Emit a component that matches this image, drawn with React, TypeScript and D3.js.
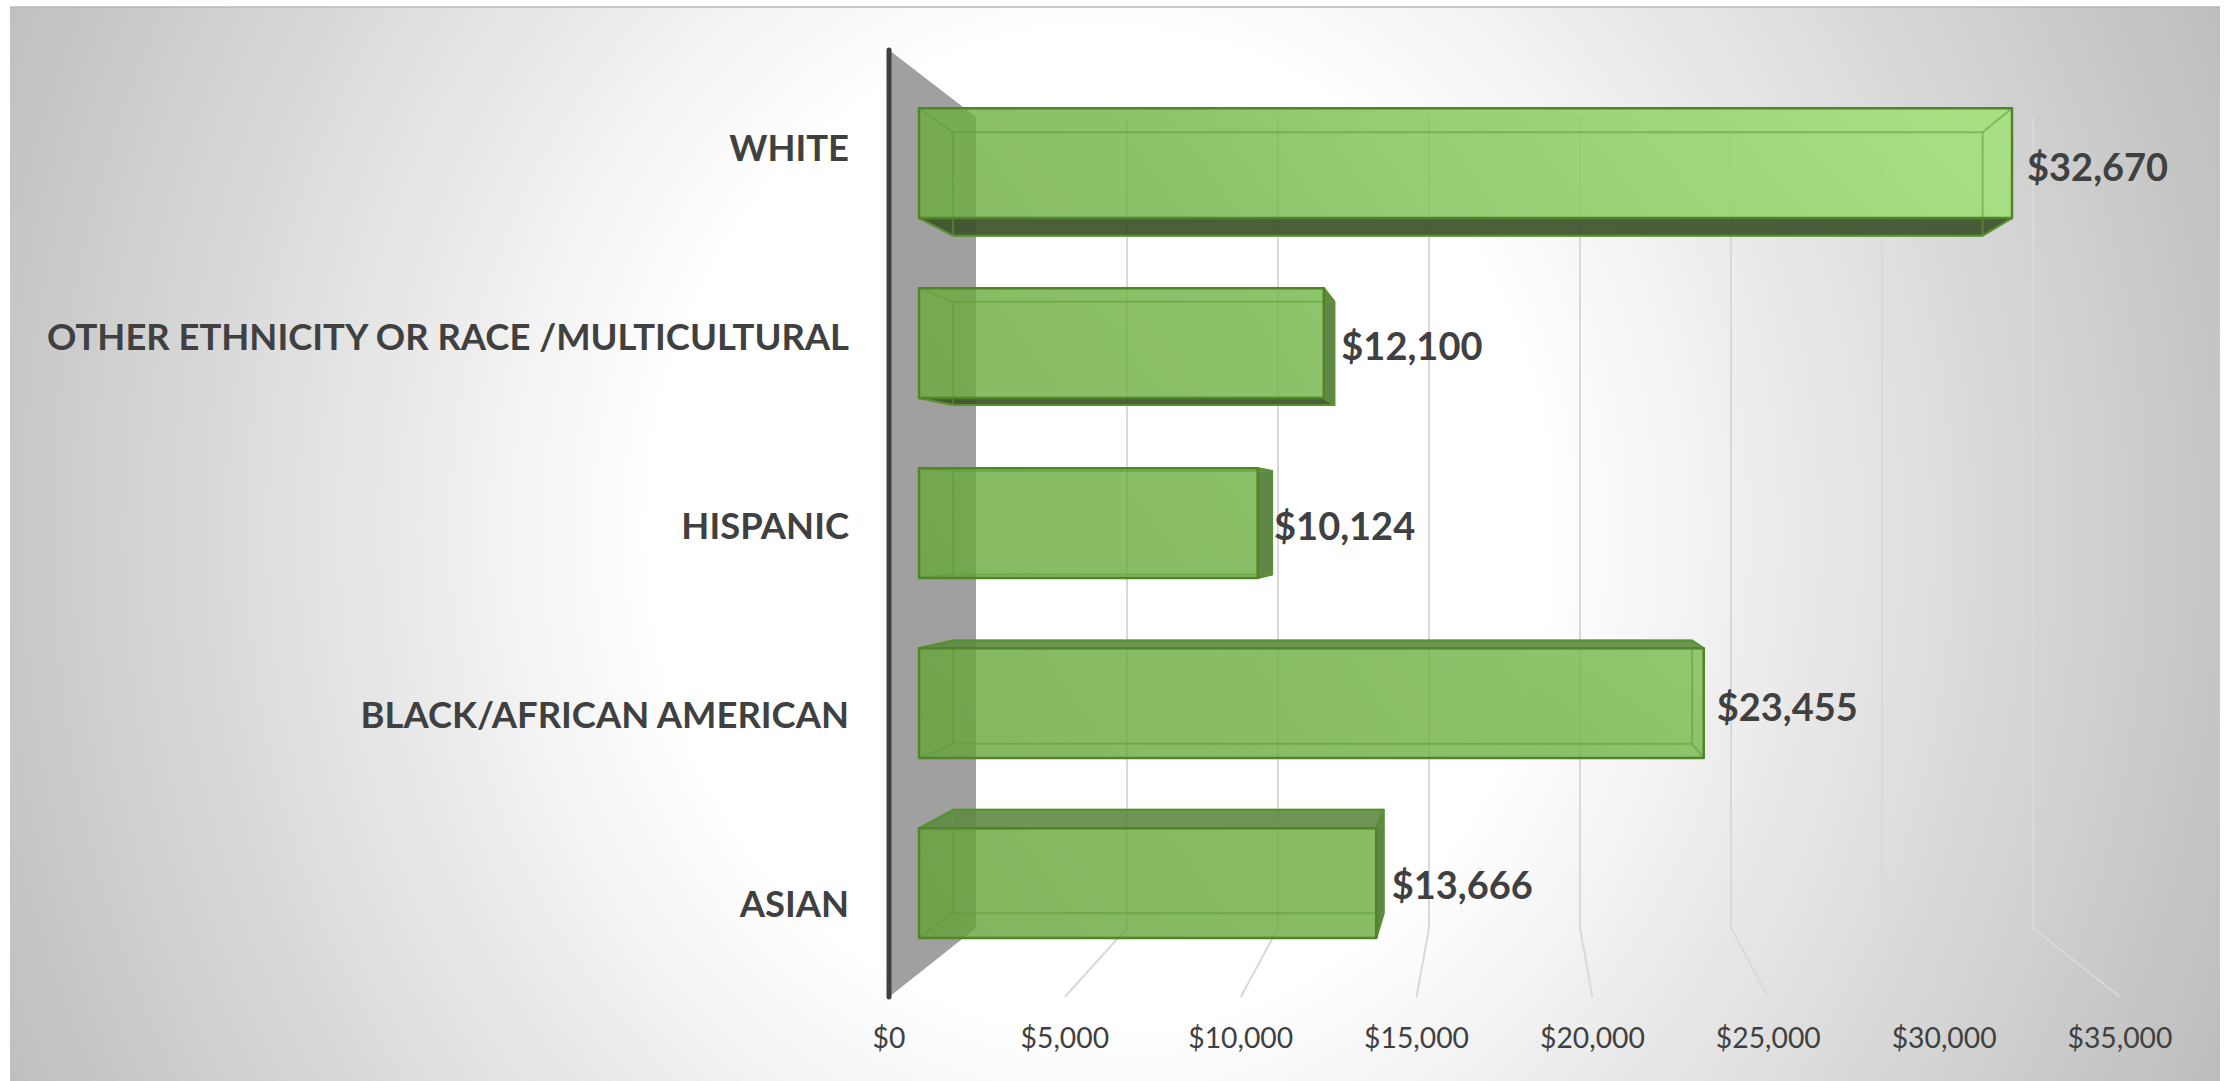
import React from "react";
import * as d3 from "d3";

const categories = ["WHITE", "OTHER ETHNICITY OR RACE /MULTICULTURAL", "HISPANIC", "BLACK/AFRICAN AMERICAN", "ASIAN"];
const values = [32670, 12100, 10124, 23455, 13666];
const valueLabels = ["$32,670", "$12,100", "$10,124", "$23,455", "$13,666"];
const ticks = [0, 5000, 10000, 15000, 20000, 25000, 30000, 35000];

// layout (kept apart from the data)
const W = 2231, H = 1081;
const labelDx = [15, 7, 2, 13, 8];
const labelDy = [3, 2, 2, 3, 1];
const T_FRONT = 0.345, T_BACK = 0.736;

const xAxisPlane = d3.scaleLinear().domain([0, 35000]).range([889, 2120]);
const xBackPlane = d3.scaleLinear().domain([0, 35000]).range([976, 2033]);
const yAxisPlane = d3.scaleLinear().domain([0, 1]).range([50, 997]);
const yBackPlane = d3.scaleLinear().domain([0, 1]).range([117, 928]);
const band = d3.scaleBand<string>().domain(categories).range([0, 1]).paddingInner(0.39).paddingOuter(0.195);

type P = [number, number];
const pt = (v: number, u: number, t: number): P => [
  d3.interpolateNumber(xAxisPlane(v), xBackPlane(v))(t),
  d3.interpolateNumber(yAxisPlane(u), yBackPlane(u))(t),
];
const line = d3.line<P>();
const poly = (ps: P[]) => line(ps) + "Z";
const money = (n: number) => "$" + d3.format(",")(n);

const FONT = "Lato, Carlito, Calibri, sans-serif";
const EDGE = "#518529";
const INNER = "#5c9c36";

function Bar({ cat, value }: { cat: string; value: number }) {
  const u0 = band(cat)!;
  const u1 = u0 + band.bandwidth();
  const fTL = pt(0, u0, T_FRONT), fTR = pt(value, u0, T_FRONT), fBL = pt(0, u1, T_FRONT), fBR = pt(value, u1, T_FRONT);
  const bTL = pt(0, u0, T_BACK), bTR = pt(value, u0, T_BACK), bBL = pt(0, u1, T_BACK), bBR = pt(value, u1, T_BACK);
  const topOut = bTL[1] < fTL[1];
  const bottomOut = bBL[1] > fBL[1];
  const rightOut = bTR[0] > fTR[0];
  const inner: [P, P][] = [
    [bTL, bTR], [bBL, bBR], [bTL, bBL], [bTR, bBR],
    [fTL, bTL], [fBL, bBL], [fTR, bTR], [fBR, bBR],
  ];
  return (
    <g>
      {topOut && <path d={poly([fTL, fTR, bTR, bTL])} fill="#5e8a42" fillOpacity={0.9} stroke={EDGE} strokeWidth={2} strokeLinejoin="round" />}
      {bottomOut && <path d={poly([fBL, fBR, bBR, bBL])} fill="#3c5229" fillOpacity={0.92} stroke={EDGE} strokeWidth={2} strokeLinejoin="round" />}
      {rightOut && <path d={poly([fTR, bTR, bBR, fBR])} fill="#4f7a35" fillOpacity={0.9} stroke={EDGE} strokeWidth={2} strokeLinejoin="round" />}
      <path d={poly([fTL, fTR, fBR, fBL])} fill="url(#barFill)" fillOpacity={0.8} />
      {inner.map((e, i) => (
        <path key={i} d={line(e)!} fill="none" stroke={INNER} strokeWidth={2} strokeOpacity={0.55} />
      ))}
      <path d={poly([fTL, fTR, fBR, fBL])} fill="none" stroke={EDGE} strokeWidth={2.5} strokeLinejoin="round" />
    </g>
  );
}

export default function App() {
  return (
    <svg width={W} height={H} style={{ position: "absolute", left: 0, top: 0, display: "block" }}>
      <defs>
        <radialGradient id="bg" gradientUnits="userSpaceOnUse" cx={0} cy={0} r={1}
          gradientTransform="translate(1100 530) scale(1300 1444)">
          <stop offset="0" stopColor="#ffffff" />
          <stop offset="0.346" stopColor="#ffffff" />
          <stop offset="1" stopColor="#b6b6b6" />
        </radialGradient>
        <linearGradient id="barFill" gradientUnits="userSpaceOnUse" x1={919} y1={900} x2={2014} y2={120}>
          <stop offset="0" stopColor="#63a236" />
          <stop offset="0.47" stopColor="#6fb345" />
          <stop offset="1" stopColor="#9fe471" />
        </linearGradient>
      </defs>
      <rect x={10} y={7} width={2210} height={1074} fill="url(#bg)" />
      <path d="M10 7H2220" stroke="#b8b8b8" strokeWidth={1.5} fill="none" />

      {/* grid on the back wall and floor */}
      {ticks.slice(1).map((t) => (
        <path key={t} fill="none" stroke="#d9d9d9" strokeWidth={2}
          d={line([pt(t, 0, 1), pt(t, 1, 1), pt(t, 1, 0)])!} />
      ))}

      {/* side wall */}
      <path d={poly([pt(0, 0, 0), pt(0, 0, 1), pt(0, 1, 1), pt(0, 1, 0)])} fill="#a0a0a0" />
      <path d={line([pt(0, 0, 0), pt(0, 1, 0)])!} stroke="#404040" strokeWidth={5} strokeLinecap="round" />

      {categories.map((c, i) => <Bar key={c} cat={c} value={values[i]} />)}

      {categories.map((c, i) => (
        <text key={c} x={849} y={147 + i * 189} dominantBaseline="central" textAnchor="end"
          fontFamily={FONT} fontWeight={700} fontSize={36.4} fill="#404040">{c}</text>
      ))}

      {categories.map((c, i) => {
        const u = band(c)! + band.bandwidth() / 2;
        const right = Math.max(pt(values[i], u, T_FRONT)[0], pt(values[i], u, T_BACK)[0]);
        return (
          <text key={c} x={right + labelDx[i]} y={pt(values[i], u, T_FRONT)[1] + labelDy[i]} dominantBaseline="central"
            fontFamily={FONT} fontWeight={700} fontSize={38} fill="#404040">{valueLabels[i]}</text>
        );
      })}

      {ticks.map((t) => (
        <text key={t} x={xAxisPlane(t)} y={1037} dominantBaseline="central" textAnchor="middle"
          fontFamily={FONT} fontSize={28.3} fill="#404040">{money(t)}</text>
      ))}
    </svg>
  );
}
